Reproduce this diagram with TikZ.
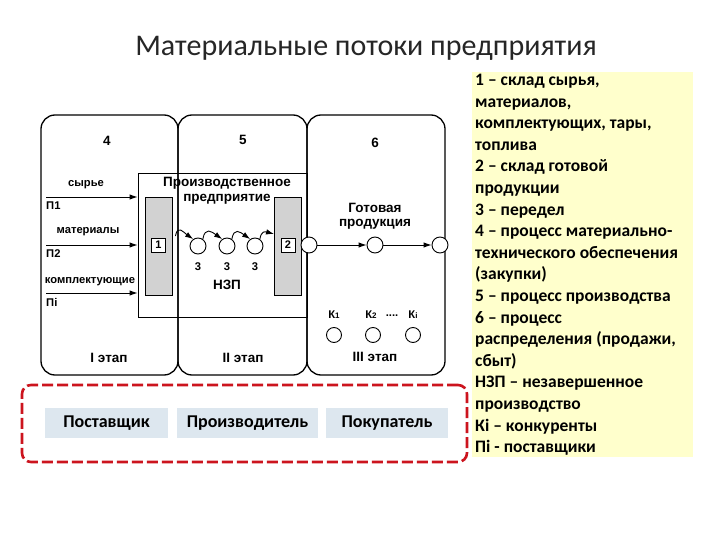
\documentclass[tikz,border=0pt]{standalone}
\usepackage{fontspec}
\setmainfont{Carlito}
\newfontfamily\arialf{Liberation Sans}
\usetikzlibrary{arrows.meta}

\definecolor{legendY}{RGB}{255,255,204}
\definecolor{dashRed}{RGB}{204,20,30}
\definecolor{roleBlue}{RGB}{221,231,239}

\begin{document}
\begin{tikzpicture}[x=1pt,y=-1pt,
  stage/.style={draw=black, line width=1.3pt, rounded corners=14pt, inner sep=0pt},
  lbl/.style={font=\arialf\bfseries\fontsize{11.2}{12}\selectfont, inner sep=0pt},
  big/.style={font=\arialf\bfseries\fontsize{13.5}{15}\selectfont, inner sep=0pt},
  circ/.style={circle, draw, line width=0.9pt, minimum size=16pt, inner sep=0pt, fill=white},
  kcirc/.style={circle, draw, line width=0.9pt, minimum size=15pt, inner sep=0pt},
  arr/.style={line width=0.9pt, -{Latex[length=8pt,width=5.5pt]}},
  store/.style={draw, line width=0.9pt, fill=gray!35, minimum width=27pt, minimum height=98pt, inner sep=0pt},
  numbox/.style={draw, line width=0.9pt, fill=white, minimum size=14pt, inner sep=0pt, font=\arialf\bfseries\fontsize{11}{12}\selectfont},
  role/.style={fill=roleBlue, minimum height=30pt, inner sep=0pt, font=\bfseries\fontsize{18}{20}\selectfont},
]
\useasboundingbox (0,0) rectangle (720,540);
\fill[white] (0,0) rectangle (720,540);

% title
\node[font=\fontsize{30}{32}\selectfont, text=black!85] (title) at (366,48) {Материальные потоки предприятия};

% enterprise rectangle
\node[draw, line width=0.9pt, minimum width=169pt, minimum height=144pt, inner sep=0pt] (ent) at (222.5,245) {};

% stage boxes
\node[stage, minimum width=137pt, minimum height=260pt] (s4) at (109.5,245) {};
\node[stage, minimum width=129pt, minimum height=260pt] (s5) at (242.5,245) {};
\node[stage, minimum width=138pt, minimum height=260pt] (s6) at (376,245) {};

\node[big] (n4) at (107,141) {4};
\node[big] (n5) at (243,140) {5};
\node[big] (n6) at (375,143) {6};

\node[big] (e1) at (227,183) {Производственное};
\node[big] (e2) at (227,199) {предприятие};

% stores
\node[store] (w1) at (158.5,246) {};
\node[store] (w2) at (288,246) {};
\node[numbox] (b1) at (158.5,245) {1};
\node[numbox] (b2) at (288,245) {2};

% in-process circles
\node[circ] (c1) at (198,246) {};
\node[circ] (c2) at (227,246) {};
\node[circ] (c3) at (255,246) {};
\node[circ] (cw) at (309,245) {};
\node[circ] (cg) at (375,245) {};
\node[circ] (ce) at (440,245) {};

\draw[arr] ([yshift=10pt,xshift=3pt]w1.east) to[out=80,in=145,looseness=1.7] (c1.125);
\draw[arr] (c1.55) to[out=80,in=145,looseness=1.7] (c2.125);
\draw[arr] (c2.55) to[out=80,in=145,looseness=1.7] (c3.125);
\draw[arr] (c3.55) to[out=80,in=165,looseness=1.5] ([yshift=12pt]w2.west);

\draw[arr] (cw) -- (cg);
\draw[arr] (cg) -- (ce);

\node[lbl] (t1) at (198,267) {3};
\node[lbl] (t2) at (227,267) {3};
\node[lbl] (t3) at (255,267) {3};
\node[big] (nzp) at (227,285) {НЗП};

% inputs
\coordinate (a1) at (46,197);
\coordinate (a2) at (46,245);
\coordinate (a3) at (46,293);
\draw[arr] (a1) -- (ent.west |- a1);
\draw[arr] (a2) -- (ent.west |- a2);
\draw[arr] (a3) -- (ent.west |- a3);
\node[lbl] (l1) at (86,185) {сырье};
\node[lbl] (l2) at (88,232) {материалы};
\node[lbl] (l3) at (90,282) {комплектующие};
\node[lbl, anchor=west] (p1) at (46,206) {П1};
\node[lbl, anchor=west] (p2) at (46,254) {П2};
\node[lbl, anchor=west] (p3) at (46,302) {Пi};

% finished goods
\node[big] (g1) at (375,208) {Готовая};
\node[big] (g2) at (375,224) {продукция};

% competitors
\node[lbl] (k1l) at (334,315) {К{\fontsize{8}{9}\selectfont 1}};
\node[lbl] (k2l) at (371,315) {К{\fontsize{8}{9}\selectfont 2}};
\node[lbl] (kdl) at (392,316) {....};
\node[lbl] (kil) at (413,315) {К{\fontsize{8}{9}\selectfont i}};
\node[kcirc] (k1) at (334,335) {};
\node[kcirc] (k2) at (373,335) {};
\node[kcirc] (k3) at (413,335) {};

% stage labels
\node[big] (st1) at (109,358) {I этап};
\node[big] (st2) at (243,358) {II этап};
\node[big] (st3) at (375,357) {III этап};

% participants group
\node[draw=dashRed, line width=2.6pt, dash pattern=on 11pt off 4pt, rounded corners=9pt,
      minimum width=445pt, minimum height=77pt, inner sep=0pt] (grp) at (244.5,423.5) {};
\node[role, minimum width=123pt] (r1) at (106.5,423) {Поставщик};
\node[role, minimum width=141pt] (r2) at (247.5,423) {Производитель};
\node[role, minimum width=122pt] (r3) at (387,423) {Покупатель};

% legend
\node[fill=legendY, minimum width=221pt, minimum height=385pt, inner sep=0pt] (leg) at (582.5,264.5) {};
\node[anchor=north west, inner sep=0pt, align=left, font=\bfseries\fontsize{17.5}{21.6}\selectfont] (legt) at (475,74) {%
1 – склад сырья,\\
материалов,\\
комплектующих, тары,\\
топлива\\
2 – склад готовой\\
продукции\\
3 – передел\\
4 – процесс материально-\\
технического обеспечения\\
(закупки)\\
5 – процесс производства\\
6 – процесс\\
распределения (продажи,\\
сбыт)\\
НЗП – незавершенное\\
производство\\
Кi – конкуренты\\
Пi - поставщики};
\end{tikzpicture}
\end{document}
